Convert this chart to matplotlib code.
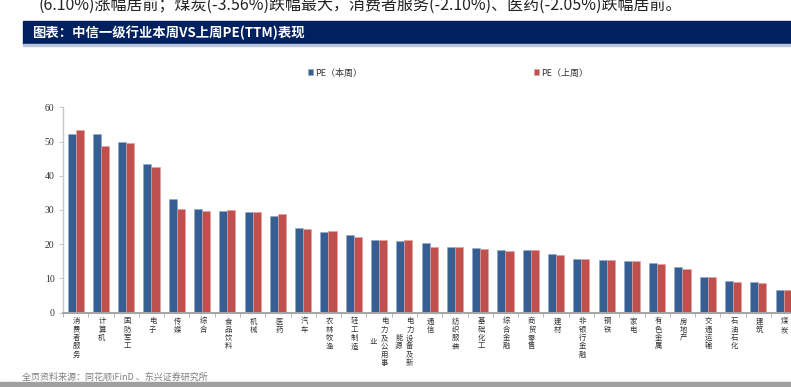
import numpy as np
import matplotlib
matplotlib.use("Agg")
import matplotlib.pyplot as plt
from matplotlib.patches import Rectangle

plt.rcParams['font.family'] = ['Noto Sans CJK SC', 'DejaVu Sans']

# 中信一级行业
industries = ['消费者服务', '计算机', '国防军工', '电子', '传媒', '综合', '食品饮料',
              '机械', '医药', '汽车', '农林牧渔', '轻工制造', '电力及公用事业',
              '电力设备及新能源', '通信', '纺织服装', '基础化工', '综合金融', '商贸零售',
              '建材', '非银行金融', '钢铁', '家电', '有色金属', '房地产', '交通运输',
              '石油石化', '建筑', '煤炭']
pe_this_week = [52.2, 52.2, 49.8, 43.4, 33.1, 30.3, 29.8, 29.4, 28.3, 24.8, 23.7, 22.8,
                21.1, 20.9, 20.3, 19.3, 19.0, 18.3, 18.4, 17.1, 15.8, 15.5, 15.1, 14.6,
                13.4, 10.5, 9.4, 8.9, 6.5]
pe_last_week = [53.3, 48.7, 49.5, 42.6, 30.4, 29.6, 29.9, 29.4, 28.9, 24.5, 23.9, 22.2,
                21.1, 21.1, 19.3, 19.3, 18.7, 17.9, 18.2, 16.9, 15.6, 15.5, 15.1, 14.1,
                12.9, 10.5, 9.0, 8.7, 6.5]
yticks = [0, 10, 20, 30, 40, 50, 60]

W, H = 791, 387
PX = 0.72  # px -> pt at dpi 100

fig = plt.figure(figsize=(W / 100, H / 100), dpi=100)

# 上方正文(原图即被截断)
fig.text(39 / W, 1 - 10 / H,
         '(6.10%)涨幅居前；煤炭(-3.56%)跌幅最大，消费者服务(-2.10%)、医药(-2.05%)跌幅居前。',
         fontsize=11.5, color='#222222', va='baseline', ha='left')

# 标题条
fig.patches.append(Rectangle((23 / W, 1 - 44 / H), 1, 23 / H,
                             transform=fig.transFigure, color='#002060', zorder=0))
fig.patches.append(Rectangle((23 / W, 1 - 45.5 / H), 1, 1.5 / H,
                             transform=fig.transFigure, color='#B8C6DC', zorder=0))
fig.text(32 / W, 1 - 33 / H, '图表：中信一级行业本周VS上周PE(TTM)表现',
         color='white', fontsize=9.6, fontweight='bold', va='center', ha='left')

ax = fig.add_axes([63 / W, 1 - 312.7 / H, 734 / W, 205.4 / H])
x = np.arange(len(industries))
bw = 0.32
b1 = ax.bar(x - bw / 2, pe_this_week, bw, color='#375E92', edgecolor='#8FA8CC',
            linewidth=0.4, label='PE（本周）')
b2 = ax.bar(x + bw / 2, pe_last_week, bw, color='#C0504D', edgecolor='#E0A3A1',
            linewidth=0.4, label='PE（上周）')

ax.set_xlim(-0.47, len(industries) - 0.47)
ax.set_ylim(0, 60)
ax.set_yticks(yticks)
ax.set_yticklabels([str(v) for v in yticks], family=['Liberation Serif'], fontsize=7,
                   color='#333333')
ax.set_xticks(x - 0.5)
ax.set_xticklabels([])
ax.tick_params(axis='x', length=3, width=0.6, color='#A6A6A6', direction='out')
ax.tick_params(axis='y', length=3, width=0.6, color='#BFBFBF', pad=3)
for s in ['top', 'right']:
    ax.spines[s].set_visible(False)
ax.spines['left'].set_color('#C8C8C8')
ax.spines['left'].set_linewidth(1.0)
ax.spines['bottom'].set_color('#A6A6A6')
ax.spines['bottom'].set_linewidth(1.5)

# 竖排类目标签
step = 8.3
top0 = 8.8
for i, name in enumerate(industries):
    cols = [name[k:k + 6] for k in range(0, len(name), 6)]
    if len(cols) == 1:
        dxs = [1]
    else:
        dxs = [5.5, -5.5]
    mid = top0 + (len(cols[0]) - 1) * step / 2
    for c, col in enumerate(cols):
        for k, ch in enumerate(col):
            if c == 0:
                dy = top0 + k * step
            else:
                dy = mid + (k - (len(col) - 1) / 2) * step
            ax.annotate(ch, xy=(i, 0), xycoords=('data', 'axes fraction'),
                        xytext=(dxs[c] * PX, -dy * PX), textcoords='offset points',
                        ha='center', va='center', fontsize=5.3, color='#333333',
                        annotation_clip=False)

fig.legend(handles=[b1, b2], loc='center', bbox_to_anchor=(448 / W, 1 - 73 / H),
           ncol=2, frameon=False, fontsize=6.5, handlelength=0.6, handleheight=0.6,
           handletextpad=0.2, columnspacing=19, labelcolor='#333333')

# 来源
fig.text(22 / W, 1 - 377 / H, '全页资料来源：同花顺iFinD 、东兴证券研究所',
         fontsize=6.5, color='#7F7F7F', va='center', ha='left')
fig.patches.append(Rectangle((0, 0), 1, 5 / H, transform=fig.transFigure,
                             color='#A0A0A0', zorder=0))

fig.savefig('out.png', dpi=100)
